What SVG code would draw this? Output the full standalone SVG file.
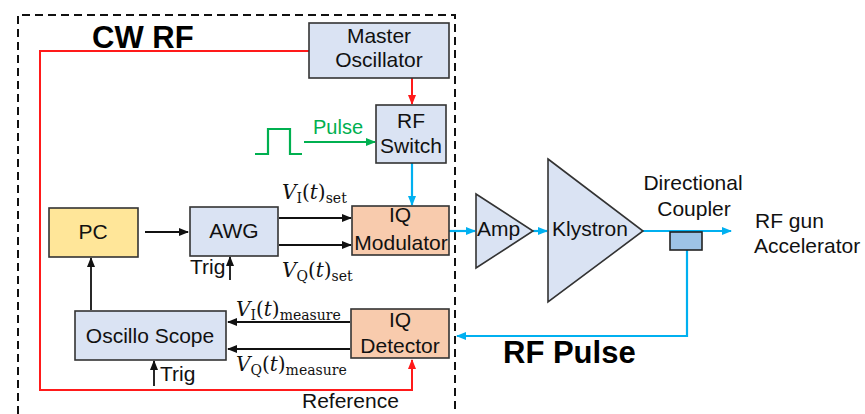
<svg xmlns="http://www.w3.org/2000/svg" width="865" height="414" viewBox="0 0 865 414">
<style>
.box{stroke:#333;stroke-width:1.6}
.blue{fill:#dae3f3}
.peach{fill:#f8cbad}
.yellow{fill:#ffe699}
.t{font-family:"Liberation Sans",Arial,sans-serif;font-size:21px;fill:#111}
.c{text-anchor:middle}
.big{font-family:"Liberation Sans",Arial,sans-serif;font-size:31px;font-weight:bold;fill:#000}
.m{font-family:"DejaVu Serif",serif;font-size:20px;fill:#111}
.s{font-size:14px}
.i{font-style:italic}
.k{stroke:#111;stroke-width:1.8;fill:none}
.r{stroke:#ff1a1a;stroke-width:2;fill:none}
.b{stroke:#00b0f0;stroke-width:2.2;fill:none}
.g{stroke:#00b050;stroke-width:2.2;fill:none}
</style>
<defs>
<marker id="ak" markerWidth="10" markerHeight="8" refX="9" refY="4" orient="auto" markerUnits="userSpaceOnUse"><path d="M0,0 L10,4 L0,8 z" fill="#111"/></marker>
<marker id="ar" markerWidth="10" markerHeight="8" refX="9" refY="4" orient="auto" markerUnits="userSpaceOnUse"><path d="M0,0 L10,4 L0,8 z" fill="#ff1a1a"/></marker>
<marker id="ab" markerWidth="10" markerHeight="8" refX="9" refY="4" orient="auto" markerUnits="userSpaceOnUse"><path d="M0,0 L10,4 L0,8 z" fill="#00b0f0"/></marker>
<marker id="ag" markerWidth="10" markerHeight="8" refX="9" refY="4" orient="auto" markerUnits="userSpaceOnUse"><path d="M0,0 L10,4 L0,8 z" fill="#00b050"/></marker>
</defs>
<rect width="865" height="414" fill="#fff"/>
<path d="M18,414 L18,15 L455,15 L455,414" fill="none" stroke="#111" stroke-width="2" stroke-dasharray="8 5"/>
<text class="big" x="92" y="48">CW RF</text>

<g id="connectors">
<path class="r" d="M309,51 L40,51 L40,390 L412,390 L412,360" marker-end="url(#ar)"/>
<path class="r" d="M412,78 L412,104" marker-end="url(#ar)"/>
<path class="g" d="M255,154 L268,154 L268,129 L290,129 L290,154 L302,154"/>
<path class="g" d="M304,142 L375,142" marker-end="url(#ag)"/>
<path class="b" d="M412,163 L412,205" marker-end="url(#ab)"/>
<path class="k" d="M145,232 L188,232" marker-end="url(#ak)"/>
<path class="k" d="M279,218 L351,218" marker-end="url(#ak)"/>
<path class="k" d="M279,245 L351,245" marker-end="url(#ak)"/>
<path class="k" d="M230,280 L230,257" marker-end="url(#ak)"/>
<path class="k" d="M91,310 L91,258" marker-end="url(#ak)"/>
<path class="k" d="M350,322 L228,322" marker-end="url(#ak)"/>
<path class="k" d="M350,349 L228,349" marker-end="url(#ak)"/>
<path class="k" d="M154,386 L154,361" marker-end="url(#ak)"/>
<path class="b" d="M449,231 L475,231" marker-end="url(#ab)"/>
<path class="b" d="M533,231 L547,231" marker-end="url(#ab)"/>
<path class="b" d="M643,231 L731,231" marker-end="url(#ab)"/>
<path class="b" d="M687,250 L687,336 L457,336" marker-end="url(#ab)"/>
</g>

<text class="g" x="313" y="134" style="font-family:'Liberation Sans',Arial,sans-serif;font-size:20px;fill:#00b050;stroke:none">Pulse</text>

<g id="master-oscillator">
<rect class="box blue" x="309" y="23" width="140" height="55"/>
<text class="t c" x="379" y="43">Master</text>
<text class="t c" x="379" y="67">Oscillator</text>
</g>
<g id="rf-switch">
<rect class="box blue" x="376" y="105" width="70" height="58"/>
<text class="t c" x="411" y="128">RF</text>
<text class="t c" x="411" y="153">Switch</text>
</g>
<g id="pc">
<rect class="box yellow" x="49" y="208" width="89" height="49"/>
<text class="t c" x="93" y="239">PC</text>
</g>
<g id="awg">
<rect class="box blue" x="190" y="207" width="88" height="49"/>
<text class="t c" x="234" y="238">AWG</text>
<text class="t" x="190" y="274">Trig</text>
</g>
<g id="iq-modulator">
<rect class="box peach" x="352" y="206" width="97" height="49"/>
<text class="t c" x="400" y="222">IQ</text>
<text class="t c" x="401" y="250">Modulator</text>
</g>
<g id="oscillo-scope">
<rect class="box blue" x="75" y="311" width="151" height="49"/>
<text class="t c" x="150" y="343">Oscillo Scope</text>
<text class="t" x="160" y="381">Trig</text>
</g>
<g id="iq-detector">
<rect class="box peach" x="351" y="309" width="98" height="49"/>
<text class="t c" x="400" y="327">IQ</text>
<text class="t c" x="400" y="353">Detector</text>
</g>
<g id="amp">
<polygon class="box blue" points="476,194 533,231 476,268"/>
<text class="t" x="477" y="236">Amp</text>
</g>
<g id="klystron">
<polygon class="box blue" points="548,159 643,231 548,302"/>
<text class="t" x="552" y="236">Klystron</text>
</g>
<g id="directional-coupler">
<rect x="670" y="232" width="32" height="18" fill="#9dc3e6" stroke="#222" stroke-width="1.6"/>
<text class="t c" x="693" y="190">Directional</text>
<text class="t c" x="694" y="216">Coupler</text>
</g>
<g id="rf-gun">
<text class="t" x="755" y="228">RF gun</text>
<text class="t" x="754" y="253">Accelerator</text>
</g>

<text class="m" x="282" y="199"><tspan class="i">V</tspan><tspan class="s" dy="4">I</tspan><tspan dy="-4">(</tspan><tspan class="i">t</tspan><tspan>)</tspan><tspan class="s" dy="4">set</tspan></text>
<text class="m" x="282" y="277"><tspan class="i">V</tspan><tspan class="s" dy="4">Q</tspan><tspan dy="-4">(</tspan><tspan class="i">t</tspan><tspan>)</tspan><tspan class="s" dy="4">set</tspan></text>
<text class="m" x="236" y="316"><tspan class="i">V</tspan><tspan class="s" dy="4">I</tspan><tspan dy="-4">(</tspan><tspan class="i">t</tspan><tspan>)</tspan><tspan class="s" dy="4">measure</tspan></text>
<text class="m" x="236" y="371"><tspan class="i">V</tspan><tspan class="s" dy="4">Q</tspan><tspan dy="-4">(</tspan><tspan class="i">t</tspan><tspan>)</tspan><tspan class="s" dy="4">measure</tspan></text>

<text class="t" x="302" y="408">Reference</text>
<text class="big" x="503" y="363">RF Pulse</text>
</svg>
